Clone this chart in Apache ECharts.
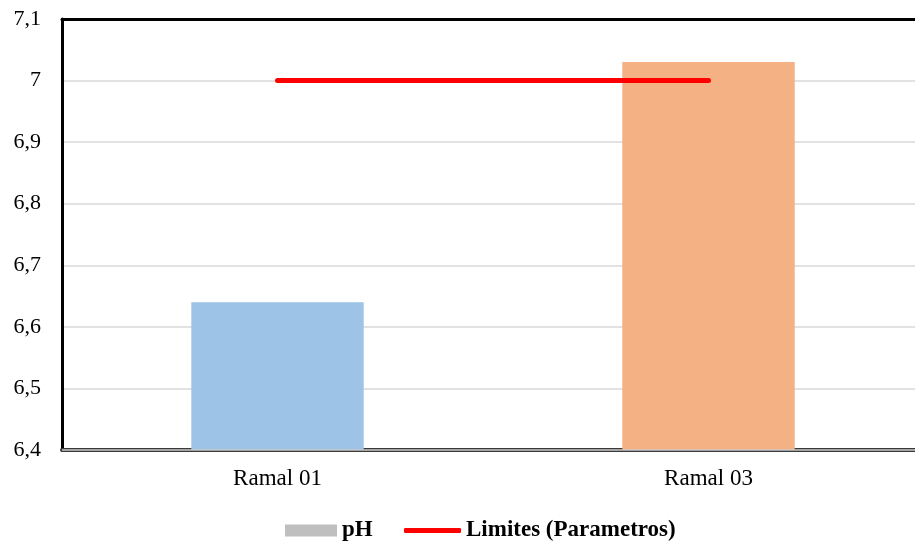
<!DOCTYPE html>
<html>
<head>
<meta charset="utf-8">
<script src="https://cdn.jsdelivr.net/npm/echarts@6/dist/echarts.min.js"></script>
<style>
  html, body { margin: 0; padding: 0; background: #fff; overflow: hidden; }
  #chart { width: 915px; height: 542px; }
</style>
</head>
<body>
<div id="chart"></div>
<script>
// pH per branch line and the reference limit
const categories = ['Ramal 01', 'Ramal 03'];
const phValues = [6.64, 7.03];
const limitValues = [7, 7];
const barColors = ['#9DC3E6', '#F4B183'];
const yMin = 6.4, yMax = 7.1, yStep = 0.1;

const serif = '"Liberation Serif", "Times New Roman", serif';
const chart = echarts.init(document.getElementById('chart'));

chart.setOption({
  backgroundColor: '#fff',
  animation: false,
  grid: { left: 62, top: 19, width: 862, bottom: 92, outerBoundsMode: 'none', containLabel: false },
  legend: [
    {
      data: ['pH'],
      left: 280, top: 514,
      icon: 'rect', itemWidth: 52, itemHeight: 12, itemGap: 5,
      textStyle: { fontFamily: serif, fontSize: 23, fontWeight: 'bold', color: '#000' }
    },
    {
      data: ['Limites (Parametros)'],
      left: 399, top: 514,
      icon: 'roundRect', itemWidth: 57, itemHeight: 5, itemGap: 3,
      textStyle: { fontFamily: serif, fontSize: 23, fontWeight: 'bold', color: '#000' }
    }
  ],
  xAxis: [
    {
      type: 'category',
      data: categories,
      axisLine: { show: true, lineStyle: { color: '#3a3a3a', width: 4 } },
      axisTick: { show: false },
      axisLabel: { fontFamily: serif, fontSize: 23, color: '#000', margin: 17 }
    },
    {
      // top frame line of the plot
      type: 'category',
      data: categories,
      position: 'top',
      axisLine: { show: true, lineStyle: { color: '#000', width: 3 } },
      axisTick: { show: false },
      axisLabel: { show: false }
    }
  ],
  yAxis: {
    type: 'value',
    min: yMin, max: yMax, interval: yStep,
    axisLine: { show: true, lineStyle: { color: '#000', width: 3 } },
    axisTick: { show: false },
    splitLine: { lineStyle: { color: '#D9D9D9', width: 1.5 } },
    axisLabel: {
      fontFamily: serif, fontSize: 22, color: '#000', margin: 21,
      verticalAlign: 'middle',
      formatter: v => String(Number(v.toFixed(1))).replace('.', ',')
    }
  },
  series: [
    {
      name: 'pH',
      type: 'bar',
      barWidth: '40%',
      itemStyle: { color: '#BFBFBF' },
      data: phValues.map((v, i) => ({ value: v, itemStyle: { color: barColors[i] } })),
      // light inner stripe of the double baseline
      markLine: {
        silent: true,
        symbol: 'none',
        label: { show: false },
        lineStyle: { color: '#C8C8C8', width: 1.5, type: 'solid' },
        data: [{ yAxis: yMin }]
      },
      z: 2
    },
    {
      name: 'Limites (Parametros)',
      type: 'line',
      data: limitValues,
      showSymbol: false,
      symbol: 'none',
      itemStyle: { color: '#FF0000' },
      lineStyle: { color: '#FF0000', width: 5, cap: 'round' },
      z: 3
    }
  ]
});
</script>
</body>
</html>
